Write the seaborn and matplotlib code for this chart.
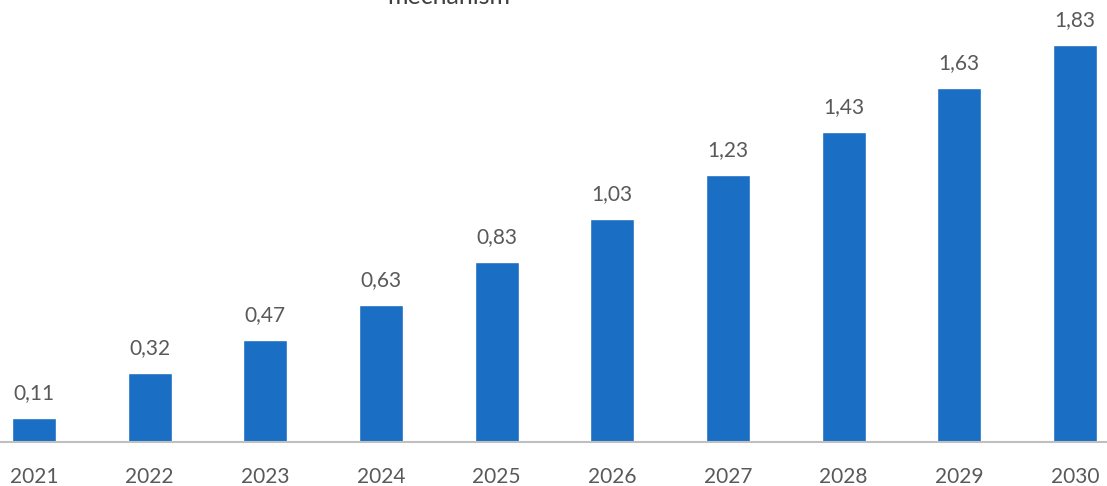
import matplotlib
matplotlib.use("Agg")
import matplotlib.pyplot as plt
import seaborn as sns
import pandas as pd

years = ["2021", "2022", "2023", "2024", "2025", "2026", "2027", "2028", "2029", "2030"]
values = [0.11, 0.32, 0.47, 0.63, 0.83, 1.03, 1.23, 1.43, 1.63, 1.83]
title_text = "mechanism"

BAR_COLOR = "#1a6ec3"
TEXT_COLOR = "#595959"
AXIS_COLOR = "#bfbfbf"

sns.set_theme(style="white")
plt.rcParams["font.family"] = ["Lato", "DejaVu Sans"]

df = pd.DataFrame({"year": years, "value": values})

fig = plt.figure(figsize=(11.07, 4.86), dpi=100)
ax = fig.add_axes([0.0, 44 / 486, 1.0, 442 / 486])

sns.barplot(data=df, x="year", y="value", color=BAR_COLOR, width=0.38,
            saturation=1, ax=ax)

ax.set_xlim(-0.294, 9.277)
ax.set_ylim(0, 2.037)

for i, v in enumerate(values):
    ax.annotate(f"{v:.2f}".replace(".", ","), xy=(i, v), xytext=(0, 13.5),
                textcoords="offset points", ha="center", va="baseline",
                fontsize=15, color=TEXT_COLOR)

for side in ["top", "right", "left"]:
    ax.spines[side].set_visible(False)
ax.spines["bottom"].set_color(AXIS_COLOR)
ax.spines["bottom"].set_linewidth(1.5)
ax.set_yticks([])
ax.set_xlabel("")
ax.set_ylabel("")
ax.tick_params(axis="x", length=0, pad=18, labelsize=15, labelcolor=TEXT_COLOR)
ax.set_facecolor("white")

fig.text(0.4056, 1 - 3.5 / 486, title_text, ha="center", va="baseline",
         fontsize=18, color="#404040")

fig.savefig("out.png", dpi=100, facecolor="white")
